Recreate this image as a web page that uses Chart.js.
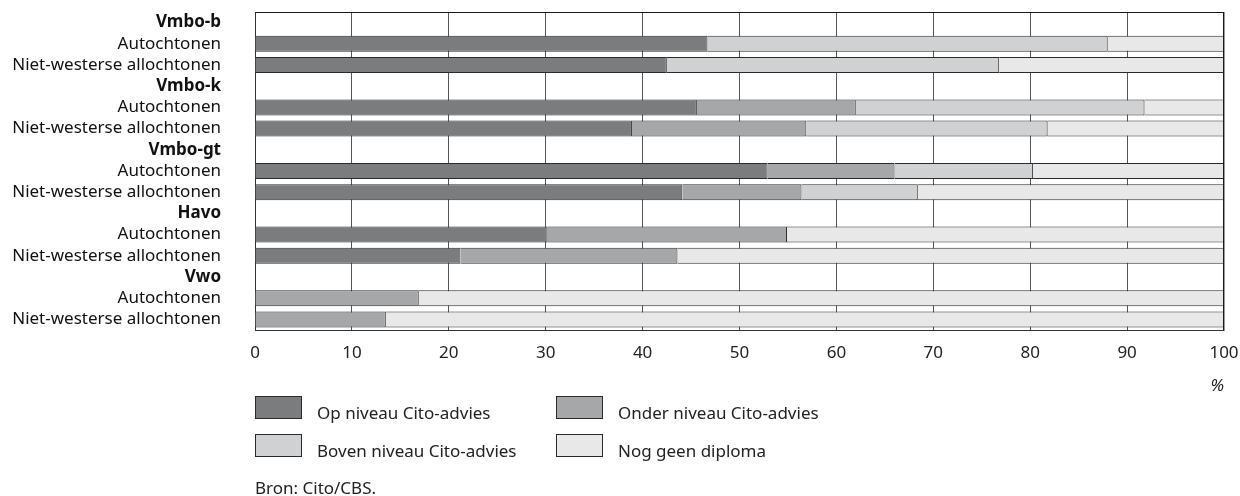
<!DOCTYPE html>
<html><head><meta charset="utf-8">
<script src="https://cdn.jsdelivr.net/npm/chart.js@4/dist/chart.umd.min.js"></script>
<style>html,body{margin:0;padding:0;background:#fff;}#wrap{position:relative;width:1240px;height:496px;}</style>
</head><body><div id="wrap"><canvas id="c" width="1240" height="496"></canvas></div>
<script>
const groups = ['Vmbo-b', 'Vmbo-k', 'Vmbo-gt', 'Havo', 'Vwo'];
const subgroups = ['Autochtonen', 'Niet-westerse allochtonen'];
const seriesNames = ['Op niveau Cito-advies', 'Onder niveau Cito-advies', 'Boven niveau Cito-advies', 'Nog geen diploma'];
// per group: [Autochtonen, Niet-westerse allochtonen]
const opNiveau    = [46.7, 42.5, 45.6, 38.9, 52.9, 44.1, 30.2, 21.2, 0, 0];
const onderNiveau = [0, 0, 16.4, 18.0, 13.1, 12.3, 24.7, 22.4, 16.9, 13.5];
const bovenNiveau = [41.3, 34.3, 29.8, 24.9, 14.3, 12.0, 0, 0, 0, 0];
const nogGeen     = [12.0, 23.2, 8.2, 18.2, 19.7, 31.6, 45.1, 56.4, 83.1, 86.5];
const xTicks = [0, 10, 20, 30, 40, 50, 60, 70, 80, 90, 100];
const unitLabel = '%';
const sourceText = 'Bron: Cito/CBS.';

const FONT = '"Noto Sans", "Open Sans", sans-serif';
const colors = ['#7b7c7e', '#a6a7a9', '#d0d1d3', '#e8e8e8'];
const BORDER = '#2b2b2b';

const labels = [];
const headerIdx = [];
groups.forEach(g => { headerIdx.push(labels.length); labels.push(g); subgroups.forEach(s => labels.push(s)); });
function expand(arr) {
  const out = [];
  groups.forEach((g, i) => { out.push(null); subgroups.forEach((s, j) => out.push(arr[i * subgroups.length + j])); });
  return out;
}
const seriesData = [opNiveau, onderNiveau, bovenNiveau, nogGeen];

const framePlugin = {
  id: 'frame',
  afterDatasetsDraw(chart) {
    const {ctx, chartArea: a} = chart;
    ctx.save();
    ctx.strokeStyle = '#1a1a1a';
    ctx.lineWidth = 1;
    ctx.beginPath();
    ctx.moveTo(a.left, a.top + 0.5); ctx.lineTo(a.right, a.top + 0.5);
    ctx.moveTo(a.right - 0.5, a.top); ctx.lineTo(a.right - 0.5, a.bottom);
    ctx.stroke();
    ctx.strokeStyle = '#9a9a9a';
    ctx.beginPath();
    ctx.moveTo(a.right + 0.5, a.top); ctx.lineTo(a.right + 0.5, a.bottom + 1);
    ctx.stroke();
    ctx.restore();
  },
  afterDraw(chart) {
    const {ctx, chartArea: a} = chart;
    ctx.save();
    ctx.font = 'italic 17px ' + FONT;
    ctx.fillStyle = '#222';
    ctx.textAlign = 'right';
    ctx.textBaseline = 'alphabetic';
    ctx.fillText(unitLabel, a.right, 391);
    // legend
    const pos = [[255.5, 396], [556.5, 396], [255.5, 434], [556.5, 434]];
    ctx.font = '17px ' + FONT;
    ctx.textAlign = 'left';
    chart.data.datasets.forEach((ds, i) => {
      const [x, y] = pos[i];
      ctx.fillStyle = ds.backgroundColor;
      ctx.fillRect(x, y, 46, 23);
      ctx.strokeStyle = BORDER;
      ctx.lineWidth = 1;
      ctx.strokeRect(x, y + 0.5, 46, 22);
      ctx.fillStyle = '#222';
      ctx.fillText(ds.label, x + 61.5, y + 23);
    });
    ctx.fillText(sourceText, a.left, 494);
    ctx.restore();
  }
};

new Chart(document.getElementById('c'), {
  type: 'bar',
  data: {
    labels: labels,
    datasets: seriesData.map((arr, i) => ({
      label: seriesNames[i],
      data: expand(arr),
      backgroundColor: colors[i],
      borderColor: BORDER,
      borderWidth: 1,
      barPercentage: 1,
      categoryPercentage: 0.755
    }))
  },
  options: {
    indexAxis: 'y',
    responsive: false,
    animation: false,
    devicePixelRatio: 1,
    layout: {padding: {top: 12, right: 16, bottom: 126, left: 0}},
    plugins: {legend: {display: false}, tooltip: {enabled: false}},
    scales: {
      x: {
        type: 'linear', stacked: true, min: 0, max: 100,
        afterBuildTicks(scale) { scale.ticks = xTicks.map(v => ({value: v})); },
        afterFit(scale) { scale.height = 40; scale.paddingLeft = 0; scale.paddingRight = 0; },
        ticks: {font: {family: FONT, size: 17}, color: '#222', padding: 13, maxRotation: 0},
        grid: {color: '#555', lineWidth: 1, drawTicks: false},
        border: {display: true, color: '#333', width: 1}
      },
      y: {
        stacked: true,
        afterFit(scale) { scale.width = 255; scale.paddingTop = 0; scale.paddingBottom = 0; },
        ticks: {
          font: (c) => ({family: FONT, size: 17, weight: headerIdx.includes(c.index) ? 'bold' : 'normal'}),
          color: '#111', padding: 34, autoSkip: false
        },
        grid: {display: false, drawTicks: false},
        border: {display: true, color: '#333', width: 1}
      }
    }
  },
  plugins: [framePlugin]
});
</script></body></html>
